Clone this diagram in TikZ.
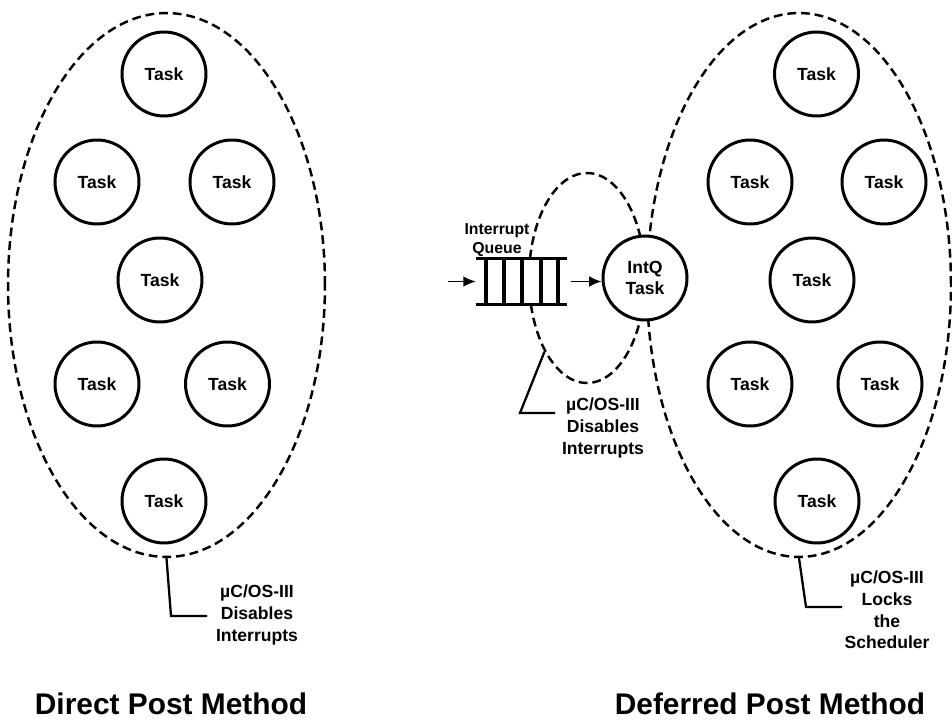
\documentclass[tikz,border=0pt]{standalone}
\usepackage{fontspec}
\setmainfont{Liberation Sans}
\usetikzlibrary{shapes.geometric,arrows.meta}
\begin{document}
\begin{tikzpicture}[x=0.02cm,y=-0.02cm,
  task/.style={circle,draw,line width=1.7pt,fill=white,minimum size=1.68cm,inner sep=0pt,font=\fontsize{10}{11.5}\selectfont\bfseries,align=center},
  region/.style={ellipse,draw,line width=1.4pt,dash pattern=on 5pt off 2.8pt,inner sep=0pt},
  callout/.style={line width=1.3pt},
  note/.style={align=center,font=\fontsize{10}{12.3}\selectfont\bfseries},
  title/.style={font=\fontsize{17}{20}\selectfont\bfseries,anchor=base},
  flow/.style={line width=0.8pt,-{Latex[length=7pt,width=6pt]}},
  qline/.style={line width=1.8pt}
]
\useasboundingbox (0,0) rectangle (952,722);

% dashed regions
\node[region,minimum width=6.34cm,minimum height=10.88cm] (L) at (166.5,285) {};
\node[region,minimum width=6.08cm,minimum height=10.88cm] (R) at (799,285) {};
\node[region,minimum width=2.32cm,minimum height=4.2cm] (M) at (587,278) {};

% left tasks
\node[task] (l1) at (164,74) {Task};
\node[task] (l2) at (97,182) {Task};
\node[task] (l3) at (232,182) {Task};
\node[task] (l4) at (160,280) {Task};
\node[task] (l5) at (97,384) {Task};
\node[task] (l6) at (227.5,384) {Task};
\node[task] (l7) at (164,501) {Task};

% right tasks
\node[task] (r1) at (816.5,74) {Task};
\node[task] (r2) at (750,182) {Task};
\node[task] (r3) at (884,182) {Task};
\node[task] (r4) at (812,280) {Task};
\node[task] (r5) at (750,384) {Task};
\node[task] (r6) at (880,384) {Task};
\node[task] (r7) at (817,501) {Task};

% IntQ task
\node[task] (I) at (645,278) {IntQ\\Task};

% queue
\node[fill=white,minimum width=1.82cm,minimum height=0.9cm,inner sep=0pt] (Q) at (521.5,281.5) {};
\draw[qline] (Q.north west) -- (Q.north east);
\draw[qline] (Q.south west) -- (Q.south east);
\foreach \b in {486,504,522,541,558} \draw[qline] (\b,259) -- (\b,304);
\node[font=\fontsize{9}{10.8}\selectfont\bfseries,align=center] (QL) at (497,240) {Interrupt\\Queue};

\coordinate (qin) at (448,281.5);
\draw[flow] (qin) -- (Q.west);
\draw[flow,shorten <=2pt] (Q.east) -- (Q.east -| I.west);

% callouts
\node[note] (LT) at (257,615) {µC/OS-III\\Disables\\Interrupts};
\coordinate (lc1) at (171,616);
\coordinate (lc2) at (207,616);
\draw[callout] (L.south) -- (lc1) -- (lc2);

\node[note] (MT) at (603,428) {µC/OS-III\\Disables\\Interrupts};
\coordinate (mc1) at (520,413);
\coordinate (mc2) at (555,413);
\draw[callout] (M.240) -- (mc1) -- (mc2);

\node[note] (RT) at (887,610) {µC/OS-III\\Locks\\the\\Scheduler};
\coordinate (rc1) at (806,607);
\coordinate (rc2) at (842,607);
\draw[callout] (R.south) -- (rc1) -- (rc2);

% titles
\node[title] (t1) at (171,714) {Direct Post Method};
\node[title] (t2) at (770,714) {Deferred Post Method};
\end{tikzpicture}
\end{document}
